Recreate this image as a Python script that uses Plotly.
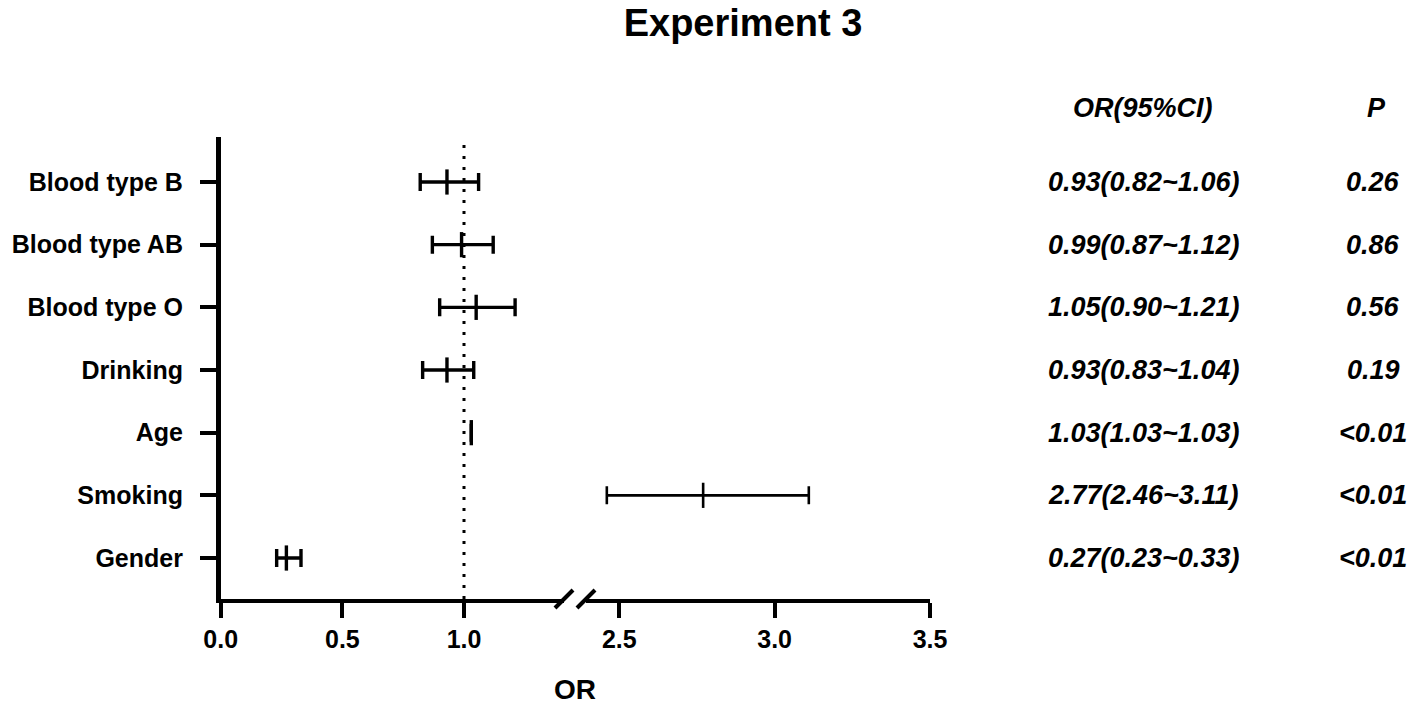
import plotly.graph_objects as go

# ---------------- data ----------------
labels = ["Blood type B", "Blood type AB", "Blood type O", "Drinking", "Age", "Smoking", "Gender"]
or_vals = [0.93, 0.99, 1.05, 0.93, 1.03, 2.77, 0.27]
ci_low = [0.82, 0.87, 0.90, 0.83, 1.03, 2.46, 0.23]
ci_high = [1.06, 1.12, 1.21, 1.04, 1.03, 3.11, 0.33]
p_text = ["0.26", "0.86", "0.56", "0.19", "&lt;0.01", "&lt;0.01", "&lt;0.01"]
x1_ticks = [0.0, 0.5, 1.0]
x2_ticks = [2.5, 3.0, 3.5]
null_value = 1.0
title_text = "Experiment 3"
x_title = "OR"
col_header_ci = "OR(95%CI)"
col_header_p = "P"

# ---------------- layout constants ----------------
W, H = 1416, 708
FONT = "Liberation Sans, Arial, Helvetica, sans-serif"
x1_dom = [220.7 / W, 564 / W]
x2_dom = [586 / W, 930 / W]
x1_range = [0, 1.411]
x2_range = [2.393, 3.5]
y_dom = [(H - 599) / H, (H - 137) / H]
y_range = [-0.654, 6.718]
break_at = x1_range[1]

fig = go.Figure()

for lab, o, lo, hi in zip(labels, or_vals, ci_low, ci_high):
    on_right = lo > break_at
    fig.add_trace(go.Scatter(
        x=[o], y=[lab],
        xaxis="x2" if on_right else "x", yaxis="y",
        mode="markers",
        marker=dict(symbol="line-ns", size=18, color="black",
                    line=dict(color="black", width=2.6 if on_right else 3.4)),
        error_x=dict(type="data", symmetric=False, array=[hi - o], arrayminus=[o - lo],
                     color="black", thickness=2.6 if on_right else 3.4, width=9),
        showlegend=False, hoverinfo="skip", cliponaxis=False,
    ))

axis_common = dict(
    showline=True, linecolor="black", linewidth=4,
    ticks="outside", ticklen=15, tickwidth=4, tickcolor="black",
    showgrid=False, zeroline=False, tickformat=".1f", automargin=False,
    tickfont=dict(family=FONT, size=25, color="black", weight="bold"),
)

fig.update_layout(
    width=W, height=H, autosize=False,
    margin=dict(l=0, r=0, t=0, b=0, pad=0),
    paper_bgcolor="white", plot_bgcolor="white",
    title=dict(text=title_text, x=743 / W, xanchor="center", y=1 - 23 / H, yanchor="middle",
               xref="container", yref="container", pad=dict(t=0, b=0, l=0, r=0),
               font=dict(family=FONT, size=38, color="black", weight="bold")),
    xaxis=dict(domain=x1_dom, range=x1_range, anchor="y", tickvals=x1_ticks, **axis_common),
    xaxis2=dict(domain=x2_dom, range=x2_range, anchor="y", tickvals=x2_ticks, **axis_common),
    yaxis=dict(domain=y_dom, range=y_range, anchor="x", type="category",
               categoryorder="array", categoryarray=labels[::-1],
               showline=True, linecolor="black", linewidth=4.5,
               ticks="outside", ticklen=16, tickwidth=4, tickcolor="black",
               ticklabelstandoff=12, automargin=False,
               showgrid=False, zeroline=False,
               tickfont=dict(family=FONT, size=25, color="black", weight="bold")),
)

# dotted null line
fig.add_shape(type="line", xref="x", yref="y domain", x0=null_value, x1=null_value, y0=0, y1=1,
              line=dict(color="black", width=3, dash="3px,8px"), layer="below")

# axis break slashes
for xd in (x1_dom[1], x2_dom[0]):
    fig.add_shape(type="line", xref="paper", yref="paper",
                  xsizemode="pixel", ysizemode="pixel",
                  xanchor=xd, yanchor=y_dom[0],
                  x0=-9, x1=9, y0=-9, y1=9,
                  line=dict(color="black", width=4))

# table columns
ci_x = 1143 / W
p_x = 1373 / W
hdr_y = (H - 108) / H
tab_font = dict(family=FONT, size=27, color="black", weight="bold", style="italic")
fig.add_annotation(text=col_header_ci, x=ci_x, y=hdr_y, xref="paper", yref="paper",
                   showarrow=False, xanchor="center", yanchor="middle", font=tab_font)
fig.add_annotation(text=col_header_p, x=1376 / W, y=hdr_y, xref="paper", yref="paper",
                   showarrow=False, xanchor="center", yanchor="middle", font=tab_font)
for lab, o, lo, hi, p in zip(labels, or_vals, ci_low, ci_high, p_text):
    fig.add_annotation(text=f"{o:.2f}({lo:.2f}~{hi:.2f})", x=ci_x, y=lab, xref="paper", yref="y",
                       showarrow=False, xanchor="center", yanchor="middle", font=tab_font)
    fig.add_annotation(text=p, x=p_x, y=lab, xref="paper", yref="y",
                       showarrow=False, xanchor="center", yanchor="middle", font=tab_font)

# x axis title
fig.add_annotation(text=x_title, x=(x1_dom[0] + x2_dom[1]) / 2, y=2 / H,
                   xref="paper", yref="paper", showarrow=False, xanchor="center", yanchor="bottom",
                   borderpad=0,
                   font=dict(family=FONT, size=28, color="black", weight="bold"))

fig.write_html("out.html", config={"displayModeBar": False},
               post_script="document.body.style.margin='0px';")
